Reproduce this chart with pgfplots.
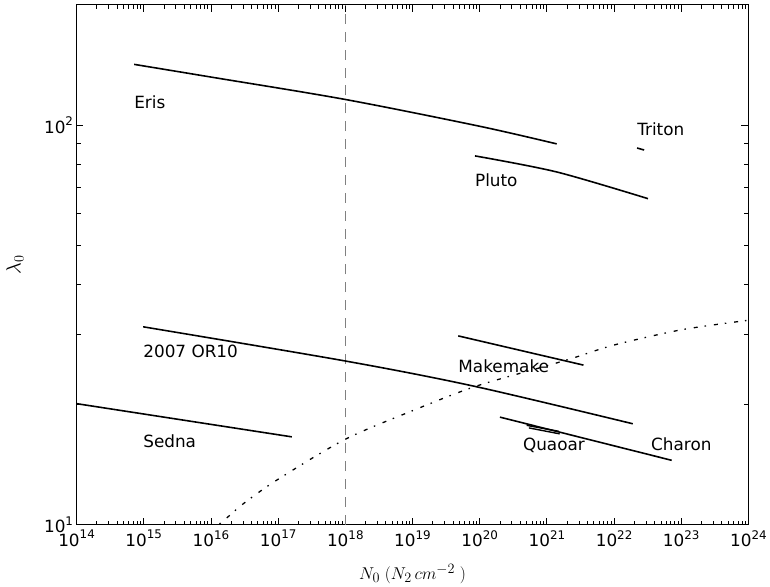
\documentclass[border=0pt]{standalone}
\usepackage{fontspec}
\setmainfont{DejaVu Sans}
\usepackage{pgfplots}
\pgfplotsset{compat=1.18}
\newcommand\sups[1]{\raisebox{0.42em}{\fontsize{12}{14}\selectfont #1}}
\begin{document}
\begin{tikzpicture}
\begin{axis}[
  scale only axis, width=676bp, height=523bp,
  xmode=log, ymode=log,
  xmin=1e14, xmax=1e24, ymin=10, ymax=200,
  xtick={1e14,1e15,1e16,1e17,1e18,1e19,1e20,1e21,1e22,1e23,1e24},
  xticklabels={10\sups{14},10\sups{15},10\sups{16},10\sups{17},10\sups{18},10\sups{19},10\sups{20},10\sups{21},10\sups{22},10\sups{23},10\sups{24}},
  ytick={10,100},
  yticklabels={10\sups{1},10\sups{2}},
  tick align=inside,
  major tick length=7bp, minor tick length=4bp,
  every tick/.style={black, line width=0.8bp},
  axis line style={line width=1bp},
  ticklabel style={font=\fontsize{17}{20}\selectfont},
  xticklabel style={yshift=-2bp},
  xlabel style={at={(axis description cs:0.5,-0.094)}, anchor=center, font=\fontsize{19}{22}\selectfont},
  ylabel style={at={(axis description cs:-0.0917,0.5)}, anchor=center, font=\fontsize{20}{23}\selectfont},
  xlabel={$N_0\;(N_2\,cm^{-2}\;)$},
  ylabel={$\lambda_0$},
  every axis plot/.append style={no markers},
]
% vertical dashed line
\addplot[gray, line width=1.4bp, dash pattern=on 10bp off 8bp] coordinates {(1e18,10) (1e18,200)};
% dash-dot curve
\addplot[black, line width=1.3bp, dash pattern=on 4bp off 7bp on 1.5bp off 8bp, smooth] coordinates {
 (1e16,9.66) (1.66e16,10.35) (3.16e16,11.35) (1e17,13.0) (1e18,16.37) (1e19,19.3)
 (8.5e19,22.18) (1e21,25.0) (2.75e21,26.3) (1e22,28.18) (1e23,30.76) (1e24,32.5)};
% Eris
\addplot[black, line width=1.6bp, smooth] coordinates {(7.2e14,142) (1e16,132) (1e18,116) (1e20,99.4) (1.4e21,89.8)};
% Pluto
\addplot[black, line width=1.6bp, smooth] coordinates {(8.5e19,83.8) (1.4e21,76.4) (3.2e22,65.5)};
% Triton
\addplot[black, line width=1.6bp] coordinates {(2.2e22,87.7) (2.8e22,86.7)};
% 2007 OR10
\addplot[black, line width=1.6bp, smooth] coordinates {(9.8e14,31.3) (1e18,25.7) (8.5e19,22.2) (1.9e22,17.9)};
% Sedna
\addplot[black, line width=1.6bp] coordinates {(1e14,20.1) (1.6e17,16.6)};
% Makemake
\addplot[black, line width=1.6bp] coordinates {(4.8e19,29.7) (3.5e21,25.1)};
% Charon
\addplot[black, line width=1.6bp] coordinates {(2e20,18.6) (7.2e22,14.5)};
% Quaoar
\addplot[black, line width=1.4bp] coordinates {(5.0e20,17.74) (1.5e21,17.14)};
\addplot[black, line width=1.4bp] coordinates {(5.4e20,17.48) (1.55e21,16.89)};
% labels
\begin{scope}[every node/.style={anchor=west, inner sep=0pt, font=\fontsize{17}{20}\selectfont}]
\node at (axis cs:7.2e14,114) {Eris};
\node at (axis cs:2.2e22,97.7) {Triton};
\node at (axis cs:8.5e19,72.9) {Pluto};
\node at (axis cs:9.8e14,27.1) {2007 OR10};
\node at (axis cs:9.8e14,16.2) {Sedna};
\node at (axis cs:4.8e19,25.0) {Makemake};
\node at (axis cs:4.39e20,15.8) {Quaoar};
\node at (axis cs:3.55e22,15.9) {Charon};
\end{scope}
\end{axis}
\path ([shift={(-77bp,-62bp)}]current axis.south west) rectangle ([shift={(17bp,5bp)}]current axis.north east);
\end{tikzpicture}
\end{document}
